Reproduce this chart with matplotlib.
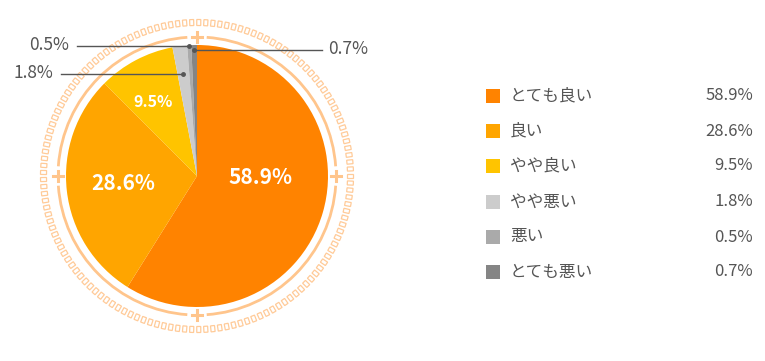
import numpy as np
import matplotlib
matplotlib.use('Agg')
import matplotlib.pyplot as plt
from matplotlib.patches import Rectangle, Arc

plt.rcParams['font.family'] = ['Noto Sans CJK JP', 'DejaVu Sans']

# data
labels = ['とても良い', '良い', 'やや良い', 'やや悪い', '悪い', 'とても悪い']
values = [58.9, 28.6, 9.5, 1.8, 0.5, 0.7]
colors = ['#FF8300', '#FFA500', '#FFC400', '#CCCCCC', '#AAAAAA', '#858585']

W, H = 765, 361
fig = plt.figure(figsize=(W / 100, H / 100), dpi=100)
ax = fig.add_axes([0, 0, 1, 1])
ax.set_xlim(0, W)
ax.set_ylim(0, H)
ax.set_aspect('equal')
ax.axis('off')

cx, cy = 197, H - 176
r = 131
ring_col = '#FFC58C'

wedges, _ = ax.pie(values, colors=colors, startangle=90, counterclock=False,
                   center=(cx, cy), radius=r, frame=False,
                   wedgeprops=dict(linewidth=0))
ax.set_xlim(0, W)
ax.set_ylim(0, H)

# inner ring line with plus marks (gaps around the plus)
rl = 139
for a0 in [0, 90, 180, 270]:
    ax.add_patch(Arc((cx, cy), 2 * rl, 2 * rl, theta1=a0 + 4, theta2=a0 + 86,
                     color=ring_col, lw=2))
    t = np.radians(a0)
    px, py = cx + rl * np.cos(t), cy + rl * np.sin(t)
    ax.plot([px - 5, px + 5], [py, py], color=ring_col, lw=2.2)
    ax.plot([px, px], [py - 5, py + 5], color=ring_col, lw=2.2)

# outer ring of small squares
rs = 153.5
n_sq = 137
for i in range(n_sq):
    t = 2 * np.pi * i / n_sq
    ang = np.degrees(t)
    w, h = 4, 6
    x0 = cx + rs * np.cos(t)
    y0 = cy + rs * np.sin(t)
    rect = Rectangle((x0 - w / 2, y0 - h / 2), w, h, angle=ang - 90,
                     rotation_point='center', fill=False, ec='#FFCB99', lw=0.9)
    ax.add_patch(rect)

# labels inside the pie
ax.text(260, H - 177, '58.9%', color='white', fontsize=15, fontweight='bold',
        ha='center', va='center')
ax.text(123, H - 184, '28.6%', color='white', fontsize=15, fontweight='bold',
        ha='center', va='center')
ax.text(153, H - 102, '9.5%', color='white', fontsize=11.5, fontweight='bold',
        ha='center', va='center')

# leader lines for the small slices
lead_col = '#555555'
txt_col = '#555555'
cum = np.cumsum([0] + values)
def mid_point(k, rr):
    frac = (cum[k] + values[k] / 2) / 100.0
    t = np.radians(90 - 360 * frac)
    return cx + rr * np.cos(t), cy + rr * np.sin(t)

x3, y3 = mid_point(3, 104)
ax.plot([61, x3], [H - 74, H - 74], color=lead_col, lw=1)
ax.plot(x3, H - 74, 'o', color=lead_col, ms=2.5)
ax.text(53, H - 73, '1.8%', color=txt_col, fontsize=12.5, ha='right', va='center')

x4, y4 = mid_point(4, 131)
ax.plot([77, x4], [H - 46, H - 46], color=lead_col, lw=1)
ax.plot(x4, H - 46, 'o', color=lead_col, ms=2.5)
ax.text(69, H - 45, '0.5%', color=txt_col, fontsize=12.5, ha='right', va='center')

x5, y5 = mid_point(5, 126)
ax.plot([x5, 322], [H - 50, H - 50], color=lead_col, lw=1)
ax.plot(x5, H - 50, 'o', color=lead_col, ms=2.5)
ax.text(328, H - 49, '0.7%', color=txt_col, fontsize=12.5, ha='left', va='center')

# legend
row_y = [96, 131, 166, 202, 237, 272]
for lab, val, col, yy in zip(labels, values, colors, row_y):
    ax.add_patch(Rectangle((486, H - yy - 7), 14, 14, color=col, lw=0))
    ax.text(510, H - yy, lab, color=txt_col, fontsize=12, ha='left', va='center')
    ax.text(753, H - yy, '%.1f%%' % val, color=txt_col, fontsize=12,
            ha='right', va='center')

fig.savefig('out.png', dpi=100)
